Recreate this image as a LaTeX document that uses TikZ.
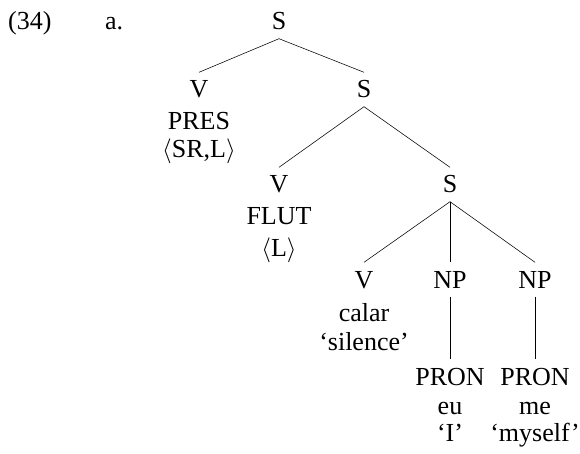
\documentclass[tikz,border=0pt]{standalone}
\usepackage{amsmath,amssymb}
\usepackage{fontspec}
\setmainfont{Liberation Serif}
\usepackage{tikz}
\usetikzlibrary{positioning}
\tikzset{
  cat/.style={
    anchor=base,
    text height=17pt,
    text depth=0pt,
    inner xsep=2pt,
    inner ysep=8.5pt
  },
  feat/.style={
    anchor=base,
    text height=17pt,
    text depth=5pt,
    inner sep=0pt
  },
  branch/.style={
    line width=0.55pt
  },
  every picture/.style = {
    font=\fontsize{26}{30}\selectfont
  }
}

\begin{document}
\begin{tikzpicture}[x=1pt,y=-1pt]
        \useasboundingbox (0,0) rectangle (580,454);
        \node[feat,anchor=base west] (num) at (8,30) {(34)};
        \node[feat,anchor=base west] (ex) at (105,30) {a.};
        % categories
        \node[cat] (s0) at (279,30) {S};
        \node[cat] (v1) at (199,98) {V};
        \node[cat] (s1) at (364,98) {S};
        \node[cat] (v2) at (279,193) {V};
        \node[cat] (s2) at (450,193) {S};
        \node[cat] (v3) at (364,288) {V};
        \node[cat] (np1) at (450,288) {NP};
        \node[cat] (np2) at (535,288) {NP};
        \node[cat] (pron1) at (450,385) {PRON};
        \node[cat] (pron2) at (535,385) {PRON};
        % features and words
        \node[feat] (pres) at (199,130) {PRES};
        \node[feat] (presarg) at (199,158) {$\langle$SR,L$\rangle$};
        \node[feat] (flut) at (279,224) {FLUT};
        \node[feat] (flutarg) at (279,256) {$\langle$L$\rangle$};
        \node[feat] (calar) at (364,321) {calar};
        \node[feat] (calargl) at (364,350) {‘silence’};
        \node[feat] (eu) at (450,414) {eu};
        \node[feat] (eugl) at (450,441) {‘I’};
        \node[feat] (me) at (535,414) {me};
        \node[feat] (megl) at (535,441) {‘myself’};
        % branches
        \draw[branch] (s0.south)--(v1.north);
        \draw[branch] (s0.south)--(s1.north);
        \draw[branch] (s1.south)--(v2.north);
        \draw[branch] (s1.south)--(s2.north);
        \draw[branch] (s2.south)--(v3.north);
        \draw[branch] (s2.south)--(np1.north);
        \draw[branch] (s2.south)--(np2.north);
        \draw[branch] (np1.south)--(pron1.north);
        \draw[branch] (np2.south)--(pron2.north);
    \end{tikzpicture}
\end{document}
